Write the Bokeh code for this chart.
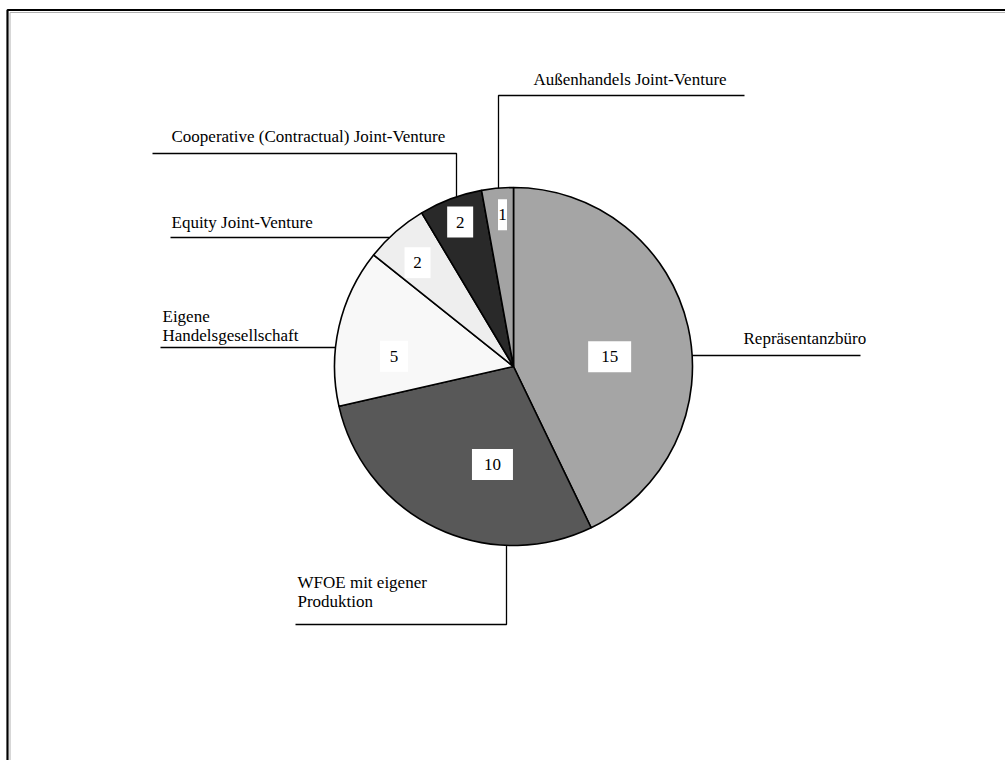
import math
from bokeh.plotting import figure
from bokeh.models import Range1d
from bokeh.core.properties import value
from bokeh.embed import file_html
from bokeh.resources import INLINE

# Market entry forms (count of companies), clockwise from 12 o'clock
categories = [
    "Repräsentanzbüro",
    "WFOE mit eigener\nProduktion",
    "Eigene\nHandelsgesellschaft",
    "Equity Joint-Venture",
    "Cooperative (Contractual) Joint-Venture",
    "Außenhandels Joint-Venture",
]
counts = [15, 10, 5, 2, 2, 1]
colors = ["#a5a5a5", "#585858", "#f8f8f8", "#eeeeee", "#292929", "#a3a3a3"]

W, H = 1005, 760
CX, CY, R = 513, 366, 179          # pie centre / radius in page pixels
FONT = value("Liberation Serif")
FS = "17px"


def sy(y):
    """page y (top-down) -> plot y (bottom-up)"""
    return H - y


p = figure(width=W, height=H, output_backend="svg", toolbar_location=None,
           x_range=Range1d(0, W), y_range=Range1d(0, H), min_border=0)
p.axis.visible = False
p.grid.visible = False
p.outline_line_color = None
p.background_fill_color = "white"
p.border_fill_color = "white"

# page frame (left and top edges visible)
p.line([7, 7, W + 20], [sy(H + 20), sy(9.5), sy(9.5)], line_color="black", line_width=2.2)
p.line([9.5, 9.5, W + 20], [sy(H + 20), sy(12), sy(12)], line_color="#b0b0b0", line_width=1)

# wedges
total = sum(counts)
starts, ends = [], []
acc = 0
for c in counts:
    starts.append(math.pi / 2 - 2 * math.pi * acc / total)
    acc += c
    ends.append(math.pi / 2 - 2 * math.pi * acc / total)

p.wedge(x=[CX] * len(counts), y=[sy(CY)] * len(counts), radius=R,
        start_angle=starts, end_angle=ends, direction="clock",
        fill_color=colors, line_color="black", line_width=1.6)

# value boxes inside the slices
label_r = [0.54, 0.56, 0.67, 0.79, 0.86, 0.85]
label_turn = [7.0, -13.6, -8.0, -1.6, 0.3, 1.0]
box_w = [43, 41, 28, 26, 26, 9]
acc = 0
bx, by, btxt = [], [], []
for c, rf, tw in zip(counts, label_r, label_turn):
    mid = 360.0 * (acc + c / 2) / total + tw
    acc += c
    a = math.radians(mid)
    bx.append(CX + rf * R * math.sin(a))
    by.append(sy(CY - rf * R * math.cos(a)))
    btxt.append(str(c))
p.rect(x=bx, y=by, width=box_w, height=31, width_units="screen",
       height_units="screen", fill_color="white", line_color=None)
p.text(x=bx, y=by, text=btxt, text_font=FONT, text_font_size=FS,
       text_align="center", text_baseline="middle", text_color="black")


def edge_x(y, side):
    return CX + side * math.sqrt(R * R - (y - CY) ** 2)


def edge_y(x, side):
    return CY + side * math.sqrt(R * R - (x - CX) ** 2)


# leader lines: (kind, fixed coordinate, elbow/end coordinate, side)
leaders = [
    ("h", 355, 860, 1),       # Repräsentanzbüro
    ("v", 506, 624, 1),       # WFOE
    ("h", 347, 160, -1),      # Eigene Handelsgesellschaft
    ("h", 237, 170, -1),      # Equity JV
    ("v", 456, 153, -1),      # Cooperative JV
    ("v", 498, 95, -1),       # Außenhandels JV
]
leader_tail = [None, 295, None, None, 152, 744]
for (kind, fixed, end, side), tail in zip(leaders, leader_tail):
    if kind == "h":
        xs = [edge_x(fixed, side), end]
        ys = [fixed, fixed]
    else:
        xs = [fixed, fixed]
        ys = [edge_y(fixed, side), end]
        if tail is not None:
            xs.append(tail)
            ys.append(end)
    p.line(xs, [sy(v) for v in ys], line_color="black", line_width=1.3)

# category names
name_x = [743, 297, 162, 171, 171, 533]
name_y = [338, 582, 316, 222, 136, 79]
tx, ty, tt = [], [], []
for name, x0, y0 in zip(categories, name_x, name_y):
    for i, part in enumerate(name.split("\n")):
        tx.append(x0)
        ty.append(sy(y0 + i * 19))
        tt.append(part)
p.text(x=tx, y=ty, text=tt, text_font=FONT, text_font_size=FS,
       text_align="left", text_baseline="middle", text_color="black")

open("out.html", "w").write(file_html(p, INLINE))
